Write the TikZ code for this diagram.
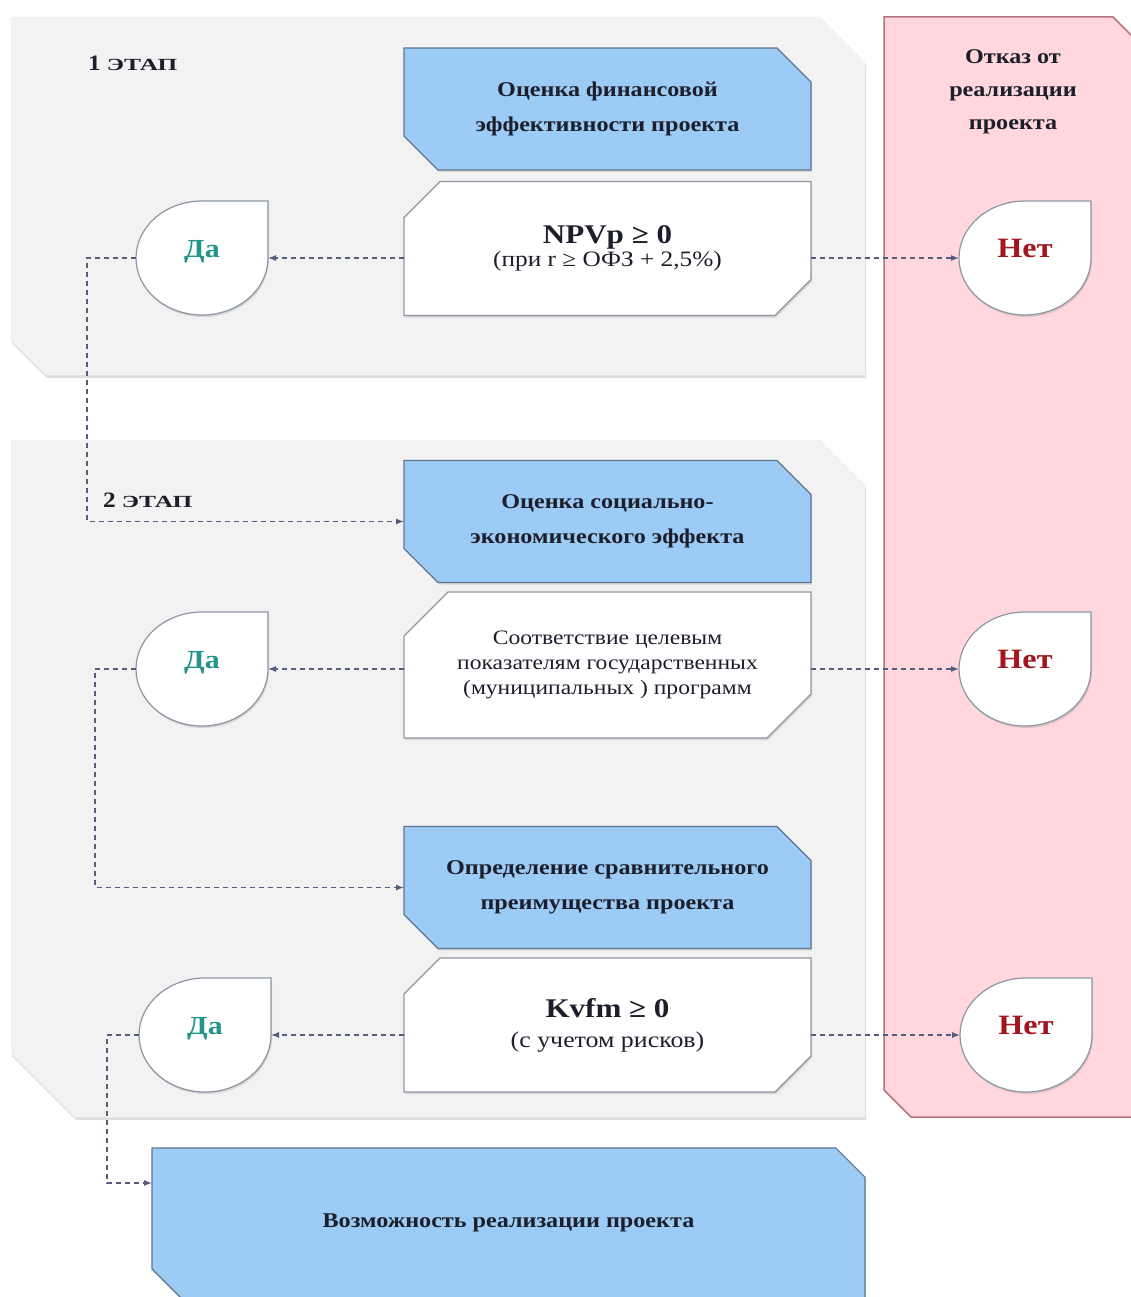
\documentclass[tikz,border=0pt]{standalone}
\usepackage{fontspec}
\setmainfont[FakeStretch=1.15]{Liberation Serif}
\usetikzlibrary{shapes.misc,shapes.geometric,backgrounds,shadows,arrows.meta}
\definecolor{etpanel}{HTML}{F2F2F2}
\definecolor{etblue}{HTML}{9CCBF6}
\definecolor{etbluedraw}{HTML}{5E7690}
\definecolor{etwhitedraw}{HTML}{8C97A3}
\definecolor{etred}{HTML}{FFD7DC}
\definecolor{etreddraw}{HTML}{B5747C}
\definecolor{etyes}{HTML}{23958B}
\definecolor{etno}{HTML}{A3161F}
\definecolor{etarrow}{HTML}{555D7C}
\definecolor{ettext}{HTML}{1C1F2B}

\begin{document}
\begin{tikzpicture}[x=1pt, y=-1pt,
        every node/.style={text=ettext, inner sep=0pt, outer sep=0pt},
        blk/.style={
          chamfered rectangle, chamfered rectangle corners={north east,south west},
          chamfered rectangle sep=17pt,
          draw=etbluedraw, line width=1.2pt, fill=etblue,
          minimum width=407pt, minimum height=122pt, align=center,
          font=\fontsize{21}{35}\selectfont\bfseries,
          drop shadow={shadow xshift=1pt, shadow yshift=-2pt, opacity=.25},
        },
        cond/.style={
          chamfered rectangle, chamfered rectangle corners={north west,south east},
          chamfered rectangle sep=18pt,
          draw=etwhitedraw, line width=1.2pt, fill=white,
          minimum width=407pt, minimum height=134pt, align=center,
          font=\fontsize{22}{23}\selectfont,
          drop shadow={shadow xshift=1pt, shadow yshift=-2pt, opacity=.25},
        },
        drp/.style={ellipse, minimum width=132pt, minimum height=114pt,
          text height=15pt, text depth=17pt},
        yes/.style={drp, text=etyes, font=\fontsize{26}{26}\selectfont\bfseries},
        rej/.style={drp, text=etno, font=\fontsize{28}{28}\selectfont\bfseries},
        dline/.style={draw=etwhitedraw, line width=1.2pt, fill=white,
          drop shadow={shadow xshift=1pt, shadow yshift=-2pt, opacity=.25}},
        panel/.style={fill=etpanel,
          drop shadow={shadow xshift=1pt, shadow yshift=-3pt, opacity=.25}},
        refuse/.style={fill=etred, draw=etreddraw, line width=1.5pt},
        arr/.style={-{Latex[length=8pt, width=6pt]}, draw=etarrow, line width=1.2pt,
          dash pattern=on 5pt off 4pt},
        stage/.style={font=\fontsize{22}{22}\selectfont\bfseries},
        lbl/.style={font=\fontsize{21}{33}\selectfont\bfseries, align=center},
      ]
      \useasboundingbox (0,0) rectangle (1130,1297);

      \node[blk]  (fin)  at (607.5, 109)   {Оценка финансовой\\эффективности проекта};
      \node[cond] (npv)  at (607.5, 248.5) {{\fontsize{27}{27}\selectfont\bfseries NPVp ≥ 0}\\(при r ≥ ОФЗ + 2,5\%)};
      \node[blk]  (soc)  at (607.5, 521.5) {Оценка социально-\\экономического эффекта};
      \node[cond, minimum height=146pt, chamfered rectangle sep=22pt,
            font=\fontsize{20.5}{25}\selectfont] (prog) at (607.5, 665)
            {Соответствие целевым\\показателям государственных\\(муниципальных ) программ};
      \node[blk]  (cmp)  at (607.5, 887.5) {Определение сравнительного\\преимущества проекта};
      \node[cond, font=\fontsize{22.5}{30}\selectfont] (kvfm) at (607.5, 1025)
            {{\fontsize{27}{27}\selectfont\bfseries Kvfm ≥ 0}\\(с учетом рисков)};
      \node[blk, minimum width=713pt, minimum height=150pt, chamfered rectangle sep=20pt]
            (ok) at (508.5, 1223) {Возможность реализации проекта};

      \node[yes] (da1)  at (202, 258)  {Да};
      \node[rej] (net1) at (1025, 258) {Нет};
      \node[yes] (da2)  at (202, 669)  {Да};
      \node[rej] (net2) at (1025, 669) {Нет};
      \node[yes] (da3)  at (205, 1035) {Да};
      \node[rej] (net3) at (1026, 1035) {Нет};

      \node[stage, anchor=base west] (st1) at (88, 71)   {1 \scalebox{1.3}[1]{\fontsize{17}{17}\selectfont ЭТАП}};
      \node[stage, anchor=base west] (st2) at (103, 507) {2 \scalebox{1.3}[1]{\fontsize{17}{17}\selectfont ЭТАП}};
      \node[lbl, anchor=north] (ttl) at (1013, 50) {Отказ от\\реализации\\проекта};

      \begin{scope}[on background layer]
        \fill[panel] (11,17) -- (820,17) -- (865,62) -- (865,375) -- (46,375) -- (11,340) -- cycle;
        \fill[panel] (11,440) -- (820,440) -- (865,485) -- (865,1117) -- (75,1117) -- (11,1053) -- cycle;
        \filldraw[refuse] (884,17) -- (1113,17) -- (1153,57) -- (1153,1117) -- (911,1117) -- (884,1090) -- cycle;
        \foreach \d in {da1,net1,da2,net2,da3,net3}
          \filldraw[dline] (\d.east) |- (\d.north)
            arc[start angle=90, end angle=360, x radius=66pt, y radius=57pt] -- cycle;
      \end{scope}

      \draw[arr] (npv.west |- da1) -- (da1.east);
      \draw[arr] (npv.east |- net1) -- (net1.west);
      \draw[arr] (da1.west) -- ++(-49,0) |- (soc.west);
      \draw[arr] (prog.west |- da2) -- (da2.east);
      \draw[arr] (prog.east |- net2) -- (net2.west);
      \draw[arr] (da2.west) -- ++(-41,0) |- (cmp.west);
      \draw[arr] (kvfm.west |- da3) -- (da3.east);
      \draw[arr] (kvfm.east |- net3) -- (net3.west);
      \draw[arr] (da3.west) -- ++(-32,0) |- ([yshift=40pt]ok.west);
    \end{tikzpicture}
\end{document}
